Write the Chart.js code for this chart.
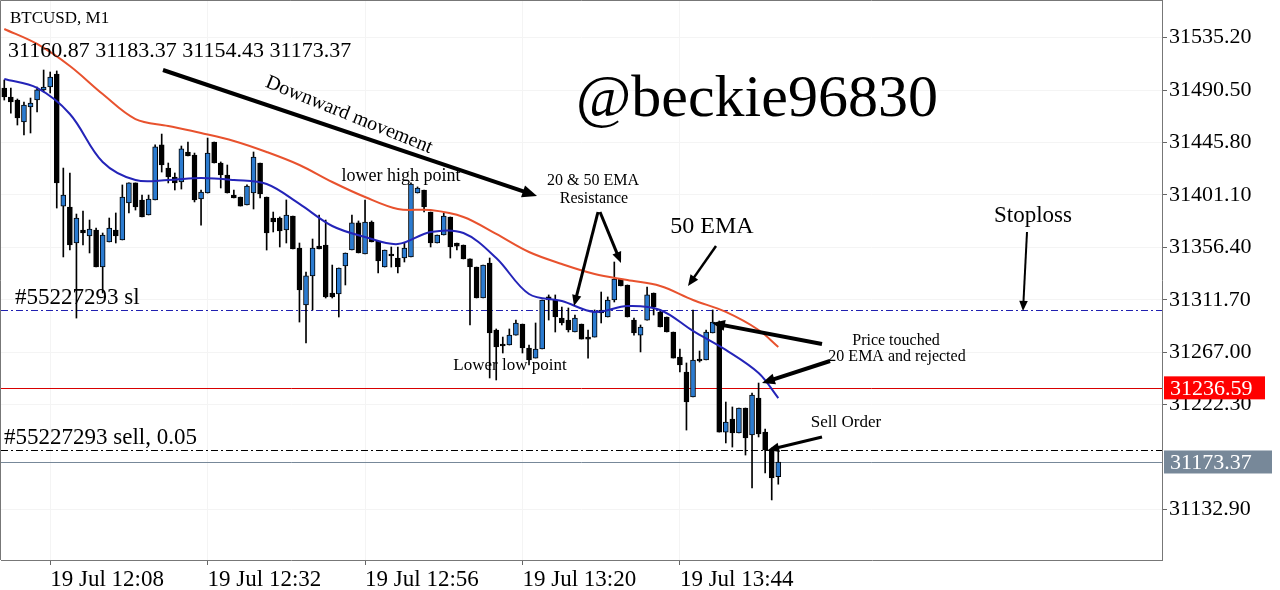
<!DOCTYPE html>
<html><head><meta charset="utf-8">
<script src="https://cdn.jsdelivr.net/npm/chart.js@4.4.1/dist/chart.umd.min.js"></script>
<style>html,body{margin:0;padding:0;background:#fff;}#wrap{width:1280px;height:590px;position:relative;}</style>
</head><body><div id="wrap"><canvas id="c" width="1280" height="590"></canvas></div>
<script>
// ---------- DATA ----------
const symbolTitle = 'BTCUSD, M1';
const dateLabel = '19 Jul';
const firstBarTime = '12:01';
const slotCount = 177;               // minutes shown on the time axis (incl. empty right shift)
const xTickTimes = ['12:08', '12:32', '12:56', '13:20', '13:44'];
const yTickValues = [31535.20, 31490.50, 31445.80, 31401.10, 31356.40, 31311.70, 31267.00, 31222.30, 31132.90];

const opens = [31492.3,31484.6,31482.0,31463.3,31476.1,31482.0,31490.6,31493.1,31504.2,31391.6,
31390.8,31360.1,31371.2,31366.1,31371.2,31339.6,31361.0,31371.2,31362.7,31394.2,
31411.3,31396.8,31384.0,31396.8,31443.7,31424.0,31416.4,31412.1,31437.7,31435.1,
31397.6,31402.7,31446.2,31428.3,31418.1,31401.0,31399.3,31392.5,31402.7,31428.3,
31399.3,31381.4,31381.4,31371.2,31383.1,31355.8,31307.2,31332.0,31357.5,31358.4,
31317.5,31316.6,31340.5,31354.1,31377.2,31350.7,31378.0,31361.8,31339.6,31350.7,
31347.3,31347.3,31348.2,31402.7,31405.3,31386.5,31360.1,31366.9,31382.3,31360.1,
31358.4,31346.5,31339.6,31313.2,31343.0,31285.9,31274.0,31273.1,31281.6,31291.0,
31270.6,31262.0,31269.7,31314.1,31311.5,31296.1,31294.4,31284.2,31291.0,31279.9,
31279.9,31303.0,31297.0,31311.5,31329.4,31324.3,31294.4,31281.6,31294.4,31317.5,
31301.3,31297.0,31284.2,31262.9,31250.1,31228.8,31261.2,31260.3,31283.4,31292.7,
31198.9,31210.0,31198.1,31219.4,31196.4,31227.9,31198.9,31183.6,31160.87];
const highs = [31499.1,31492.3,31482.9,31480.3,31483.7,31493.1,31507.6,31505.9,31506.8,31424.0,
31419.8,31384.8,31387.4,31379.7,31372.9,31368.6,31381.4,31385.7,31409.6,31411.3,
31411.3,31401.0,31401.0,31443.7,31453.0,31428.3,31419.8,31442.8,31446.2,31436.8,
31405.3,31449.6,31446.2,31429.2,31426.6,31405.3,31399.3,31409.6,31437.7,31428.3,
31399.3,31386.5,31382.3,31396.8,31383.1,31360.1,31335.4,31363.5,31384.0,31379.7,
31341.3,31338.8,31351.6,31384.0,31378.9,31396.8,31378.9,31361.8,31354.1,31356.7,
31356.7,31360.1,31411.3,31407.9,31405.3,31386.5,31366.9,31385.7,31382.3,31360.1,
31358.4,31346.5,31339.6,31341.3,31347.3,31286.8,31279.9,31286.8,31294.4,31291.0,
31273.1,31291.9,31311.5,31315.8,31315.8,31305.5,31304.7,31298.7,31291.0,31285.9,
31303.0,31318.3,31314.1,31343.9,31329.4,31324.3,31296.1,31290.2,31322.6,31317.5,
31303.0,31297.0,31284.2,31269.7,31257.8,31303.0,31268.0,31285.9,31303.0,31293.6,
31224.5,31220.3,31219.4,31219.4,31232.2,31240.7,31201.5,31185.3,31183.37];
const lows = [31482.0,31470.9,31460.7,31452.2,31453.9,31471.8,31488.9,31488.0,31389.9,31348.2,
31354.1,31296.1,31358.4,31351.6,31339.6,31317.5,31361.0,31360.1,31362.7,31385.7,
31388.2,31382.3,31384.0,31396.8,31420.6,31411.3,31405.3,31406.1,31434.3,31395.1,
31375.4,31402.7,31428.3,31407.0,31402.7,31398.5,31391.6,31392.5,31389.1,31398.5,
31354.1,31369.5,31356.7,31360.1,31355.0,31292.7,31274.8,31303.0,31355.0,31313.2,
31313.2,31297.0,31324.3,31354.1,31351.6,31350.7,31361.0,31334.5,31339.6,31339.6,
31334.5,31343.9,31348.2,31402.7,31386.5,31356.7,31360.1,31366.9,31347.3,31354.1,
31346.5,31290.2,31313.2,31313.2,31245.0,31243.3,31266.3,31273.1,31281.6,31266.3,
31256.1,31262.0,31269.7,31294.4,31284.2,31290.2,31284.2,31284.2,31278.2,31262.0,
31279.9,31291.9,31297.0,31309.8,31323.4,31297.0,31281.6,31267.2,31294.4,31298.7,
31288.5,31284.2,31262.0,31250.1,31200.6,31228.8,31258.6,31260.3,31283.4,31198.9,
31189.6,31186.1,31198.1,31179.3,31151.2,31194.7,31164.0,31141.0,31154.43];
const closes = [31484.6,31480.3,31466.7,31477.8,31479.5,31490.6,31493.1,31501.6,31411.3,31401.0,
31358.4,31381.4,31368.6,31372.0,31339.6,31366.9,31372.9,31366.1,31399.3,31411.3,
31390.8,31382.3,31397.6,31442.0,31426.6,31416.4,31411.3,31440.3,31434.3,31396.8,
31403.6,31436.8,31428.3,31418.1,31402.7,31398.5,31391.6,31408.7,31433.4,31401.9,
31368.6,31378.0,31370.3,31384.0,31355.0,31320.0,31332.0,31355.8,31355.0,31314.1,
31314.1,31338.8,31351.6,31377.2,31351.6,31378.0,31361.0,31344.8,31354.1,31349.0,
31339.6,31355.8,31410.4,31407.0,31390.8,31360.1,31366.9,31383.1,31356.7,31357.5,
31346.5,31339.6,31313.2,31341.3,31283.4,31271.4,31272.3,31281.6,31291.9,31270.6,
31260.3,31269.7,31311.5,31311.5,31297.0,31291.9,31285.9,31296.1,31278.2,31278.2,
31301.3,31300.4,31311.5,31329.4,31323.4,31297.0,31283.4,31288.5,31315.8,31305.5,
31288.5,31284.2,31262.0,31256.1,31224.5,31260.3,31259.5,31284.2,31292.7,31198.9,
31207.5,31198.1,31219.4,31193.8,31230.5,31197.2,31183.6,31159.7,31173.37];

// moving averages at these bar indices
const emaIndex = [0,5,10,15,20,25,30,35,40,45,50,55,60,65,70,75,80,85,90,95,100,105,110,115,118];
const ema20 = [31499.9,31492.3,31470.1,31429.2,31413.8,31413.8,31415.5,31413.8,31410.4,31393.4,
31374.6,31365.2,31359.2,31369.5,31368.6,31347.3,31316.6,31310.6,31301.3,31306.4,31303.0,31285.1,31268.9,31249.2,31227.9];
const ema50 = [31542.6,31529.8,31511.0,31487.1,31465.8,31459.9,31453.9,31447.1,31437.7,31426.6,
31412.1,31399.3,31389.1,31388.2,31382.3,31367.8,31352.4,31342.2,31333.7,31328.5,31323.4,31311.5,31301.3,31285.9,31271.4];

const stopLossPrice = 31303.0;
const sellPrice = 31183.9;
const bidPrice = 31236.59;
const lastPrice = 31173.37;
const orderId = '#55227293';
const orderLots = '0.05';
const yMin = 31089.8, yMax = 31567.3;

// ---------- BUILD ----------
const [h0, m0] = firstBarTime.split(':').map(Number);
const labels = [];
for (let k = 0; k < slotCount; k++) {
  const t = h0 * 60 + m0 + k;
  labels.push(String(Math.floor(t / 60)).padStart(2, '0') + ':' + String(t % 60).padStart(2, '0'));
}
const N = opens.length;
const bullColor = '#2b7bd0';
const wickData = labels.map((_, i) => i < N ? [lows[i], highs[i]] : null);
const bodyData = labels.map((_, i) => i < N ? [opens[i], closes[i]] : null);
const bodyColors = labels.map((_, i) => i < N && closes[i] > opens[i] ? bullColor : '#000');
const lineData = vals => { const arr = labels.map(() => null); emaIndex.forEach((ix, k) => arr[ix] = vals[k]); return arr; };

const SERIF = '"Liberation Serif", "DejaVu Serif", serif';

function arrow(ctx, x1, y1, x2, y2, lw, head) {
  const ang = Math.atan2(y2 - y1, x2 - x1);
  ctx.lineWidth = lw; ctx.strokeStyle = '#000'; ctx.fillStyle = '#000';
  ctx.beginPath(); ctx.moveTo(x1, y1);
  ctx.lineTo(x2 - Math.cos(ang) * head * 0.8, y2 - Math.sin(ang) * head * 0.8); ctx.stroke();
  ctx.beginPath(); ctx.moveTo(x2, y2);
  ctx.lineTo(x2 - head * Math.cos(ang - 0.4), y2 - head * Math.sin(ang - 0.4));
  ctx.lineTo(x2 - head * Math.cos(ang + 0.4), y2 - head * Math.sin(ang + 0.4));
  ctx.closePath(); ctx.fill();
}
function txt(ctx, s, x, y, size, align, rot) {
  ctx.save(); ctx.translate(x, y); if (rot) ctx.rotate(rot);
  ctx.font = size + 'px ' + SERIF; ctx.fillStyle = '#000';
  ctx.textAlign = align || 'left'; ctx.textBaseline = 'middle';
  ctx.fillText(s, 0, 0); ctx.restore();
}

const overlay = {
  id: 'overlay',
  beforeDatasetsDraw(chart) {
    const { ctx, chartArea: a, scales: { y } } = chart;
    ctx.save();
    const hline = (price, color, dash) => {
      const py = Math.round(y.getPixelForValue(price)) + 0.5;
      ctx.strokeStyle = color; ctx.lineWidth = 1; ctx.setLineDash(dash);
      ctx.beginPath(); ctx.moveTo(a.left, py); ctx.lineTo(a.right, py); ctx.stroke();
    };
    hline(stopLossPrice, '#2020b0', [7, 3, 2, 3]);
    hline(bidPrice, '#d80000', []);
    hline(sellPrice, '#000', [7, 3, 2, 3]);
    hline(lastPrice, '#778899', []);
    ctx.restore();
  },
  afterDraw(chart) {
    const { ctx, chartArea: a, scales: { y } } = chart;
    ctx.save();
    // frame
    ctx.strokeStyle = '#777'; ctx.lineWidth = 1;
    ctx.beginPath(); ctx.moveTo(a.left - 0.5, a.bottom); ctx.lineTo(a.left - 0.5, a.top + 0.5); ctx.lineTo(a.right, a.top + 0.5); ctx.stroke();
    // price boxes
    const box = (price, fill, x2) => {
      const py = y.getPixelForValue(price);
      ctx.fillStyle = fill; ctx.fillRect(a.right + 2, py - 11.5, x2 - (a.right + 2), 23);
      ctx.fillStyle = '#fff'; ctx.font = '22px ' + SERIF; ctx.textAlign = 'left'; ctx.textBaseline = 'middle';
      ctx.fillText(price.toFixed(2), a.right + 8, py + 1);
    };
    box(bidPrice, '#ff0000', 1265);
    box(lastPrice, '#778899', 1272);
    // header
    txt(ctx, symbolTitle, 10, 19, 17);
    txt(ctx, [opens[N-1], highs[N-1], lows[N-1], closes[N-1]].map(v => v.toFixed(2)).join(' '), 8, 51, 22);
    // order labels
    txt(ctx, orderId + ' sl', 15, y.getPixelForValue(stopLossPrice) - 12, 23);
    txt(ctx, orderId + ' sell, ' + orderLots, 4, y.getPixelForValue(sellPrice) - 12, 23);
    // annotations
    txt(ctx, '@beckie96830', 757, 100, 60, 'center');
    txt(ctx, 'Downward movement', 349, 115, 20, 'center', 22 * Math.PI / 180);
    arrow(ctx, 163, 70, 537, 196, 4, 16);
    txt(ctx, 'lower high point', 401, 176, 18, 'center');
    txt(ctx, '20 & 50 EMA', 593, 181, 16, 'center');
    txt(ctx, 'Resistance', 594, 199, 16, 'center');
    arrow(ctx, 598, 212, 574, 306, 3, 12);
    arrow(ctx, 600, 212, 621, 263, 3, 12);
    txt(ctx, '50 EMA', 712, 227, 24, 'center');
    arrow(ctx, 716, 246, 688, 286, 2.5, 12);
    txt(ctx, 'Stoploss', 1033, 216, 23, 'center');
    arrow(ctx, 1027, 232, 1023, 311, 2, 11);
    txt(ctx, 'Price touched', 896, 341, 16, 'center');
    txt(ctx, '20 EMA and rejected', 897, 357, 16, 'center');
    arrow(ctx, 822, 344, 712, 323, 4, 14);
    arrow(ctx, 830, 361, 762, 383, 4, 14);
    txt(ctx, 'Sell Order', 846, 423, 17, 'center');
    arrow(ctx, 822, 437, 768, 450, 3, 12);
    txt(ctx, 'Lower low point', 510, 366, 17, 'center');
    ctx.restore();
  }
};

new Chart(document.getElementById('c'), {
  type: 'bar',
  data: {
    labels,
    datasets: [
      { type: 'line', data: lineData(ema20), borderColor: '#2424b8', borderWidth: 2, pointRadius: 0, spanGaps: true, tension: 0.35, order: 0 },
      { type: 'line', data: lineData(ema50), borderColor: '#e8522e', borderWidth: 2, pointRadius: 0, spanGaps: true, tension: 0.35, order: 0 },
      { type: 'bar', data: bodyData, backgroundColor: bodyColors, borderColor: '#000', borderWidth: 1, borderSkipped: false, barThickness: 5, grouped: false, minBarLength: 2, order: 1 },
      { type: 'bar', data: wickData, backgroundColor: '#000', barThickness: 1, grouped: false, minBarLength: 1, order: 2 }
    ]
  },
  options: {
    responsive: false, animation: false, devicePixelRatio: 1,
    layout: { padding: { left: 1, top: 0, right: 0, bottom: 0 } },
    plugins: { legend: { display: false }, tooltip: { enabled: false } },
    scales: {
      x: {
        type: 'category', offset: true,
        grid: { offset: false, color: '#f4f4f4', tickColor: '#666', tickLength: 5, drawOnChartArea: true },
        border: { color: '#777' },
        afterBuildTicks: s => { s.ticks = s.ticks.filter(t => xTickTimes.includes(labels[t.value])); },
        afterFit: s => { s.height = 30; s.paddingLeft = 0; s.paddingRight = 0; },
        ticks: {
          autoSkip: false, maxRotation: 0, minRotation: 0, align: 'start', padding: 1, color: '#000',
          font: { family: SERIF, size: 23 },
          callback: function (v) { return dateLabel + ' ' + this.getLabelForValue(v); }
        }
      },
      y: {
        position: 'right', min: yMin, max: yMax,
        afterBuildTicks: s => { s.ticks = yTickValues.map(v => ({ value: v })); },
        afterFit: s => { s.width = 118; s.paddingTop = 0; s.paddingBottom = 0; },
        grid: { color: '#f4f4f4', tickColor: '#666', tickLength: 5 },
        border: { color: '#777' },
        ticks: { padding: 2, color: '#000', font: { family: SERIF, size: 22 }, callback: v => Number(v).toFixed(2) }
      }
    }
  },
  plugins: [overlay]
});
</script></body></html>
